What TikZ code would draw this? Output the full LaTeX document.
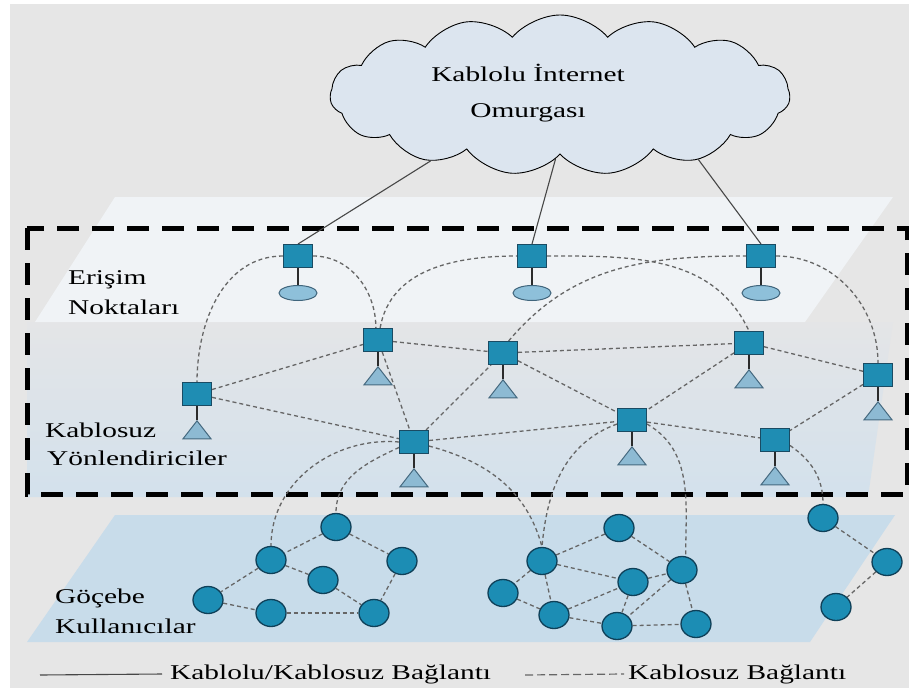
\documentclass[tikz,border=0pt]{standalone}
\usepackage{fontspec}
\setmainfont{Liberation Serif}[FakeStretch=1.4]
\usetikzlibrary{shapes.geometric,shapes.symbols}

\definecolor{bggrey}{HTML}{E6E6E6}
\definecolor{topplane}{HTML}{F0F3F6}
\definecolor{midtop}{HTML}{E4E5E7}
\definecolor{midbot}{HTML}{D3E1EC}
\definecolor{lowplane}{HTML}{C8DCEA}
\definecolor{cloudfill}{HTML}{DCE5EF}
\definecolor{sqfill}{HTML}{1F8DB3}
\definecolor{sqdraw}{HTML}{1A4B63}
\definecolor{trifill}{HTML}{8DBAD3}
\definecolor{tridraw}{HTML}{45697F}
\definecolor{discfill}{HTML}{8EC0DA}
\definecolor{discdraw}{HTML}{40657C}
\definecolor{userfill}{HTML}{1C8DB4}
\definecolor{userdraw}{HTML}{0F4058}
\definecolor{linkgrey}{HTML}{666666}
\definecolor{wiregrey}{HTML}{474747}
\definecolor{stemcol}{HTML}{2B2B2B}

\pgfdeclarelayer{bg}
\pgfdeclarelayer{links}
\pgfsetlayers{bg,links,main}

\tikzset{
  router/.style={rectangle, fill=sqfill, draw=sqdraw, line width=1pt,
    minimum width=29pt, minimum height=23pt, inner sep=0pt},
  apdisc/.style={ellipse, fill=discfill, draw=discdraw, line width=1pt,
    minimum width=38pt, minimum height=15pt, inner sep=0pt},
  mtri/.style={isosceles triangle, isosceles triangle stretches,
    shape border rotate=90, minimum width=28pt, minimum height=18pt,
    inner sep=0pt, fill=trifill, draw=tridraw, line width=1pt},
  user/.style={ellipse, fill=userfill, draw=userdraw, line width=1.3pt,
    minimum width=30pt, minimum height=27pt, inner sep=0pt},
  radio/.style={draw=linkgrey, line width=1.3pt, dash pattern=on 4pt off 3pt},
  legdash/.style={draw=linkgrey, line width=1.2pt, dash pattern=on 8pt off 4pt},
  wire/.style={draw=wiregrey, line width=1.1pt},
  stem/.style={draw=stemcol, line width=1.6pt},
  lbl/.style={font=\fontsize{21}{25}\selectfont, inner sep=0pt, anchor=west},
}

\begin{document}
\begin{tikzpicture}[x=1pt,y=1pt]
\useasboundingbox (0,0) rectangle (909,-690);

% backdrop and the three layers
\begin{pgfonlayer}{bg}
  \fill[white] (0,0) rectangle (909,-690);
  \fill[bggrey] (10,-4) rectangle (909,-688);
  \shade[top color=midtop, bottom color=midbot]
    (27,-322) -- (893,-322) -- (868,-497) -- (27,-497) -- cycle;
  \fill[topplane] (115,-197) -- (893,-197) -- (805,-322) -- (35,-322) -- cycle;
  \fill[lowplane] (115,-515) -- (895,-515) -- (810,-642) -- (27,-642) -- cycle;
  \draw[line width=5pt, dash pattern=on 22pt off 13pt] (27,-228) rectangle (907,-494);
\end{pgfonlayer}

% backbone cloud
\node[cloud, cloud puffs=15, cloud puff arc=100, cloud ignores aspect,
      draw=black, line width=0.9pt, fill=cloudfill,
      minimum width=460pt, minimum height=160pt, inner sep=0pt] (cloud) at (560,-95) {};
\node[lbl, anchor=center, align=center, font=\fontsize{21}{36}\selectfont]
  (cloudtxt) at (528,-93) {Kablolu İnternet\\Omurgası};

% layer captions
\node[lbl] (capA1) at (68,-280) {Erişim};
\node[lbl] (capA2) at (68,-307) {Noktaları};
\node[lbl] (capB1) at (45,-430) {Kablosuz};
\node[lbl] (capB2) at (47,-458) {Yönlendiriciler};
\node[lbl] (capC1) at (55,-598) {Göçebe};
\node[lbl] (capC2) at (55,-626) {Kullanıcılar};

% access points
\foreach \n/\x in {a1/298, a2/532, a3/761} {
  \node[router] (\n) at (\x,-256) {};
  \node[apdisc] (\n d) at (\x,-293) {};
  \begin{pgfonlayer}{links}
    \draw[stem] (\n.south) -- (\n d.north);
  \end{pgfonlayer}
}

% mesh routers
\foreach \n/\x/\y in {r1/197/394, r2/378/340, r3/414/442, r4/503/353,
                      r5/749/343, r6/878/375, r7/632/420, r8/775/440} {
  \node[router] (\n) at (\x,-\y) {};
  \node[mtri, anchor=apex] (\n t) at (\x,-\y-25.5) {};
  \begin{pgfonlayer}{links}
    \draw[stem] (\n.south) -- (\n t.apex);
  \end{pgfonlayer}
}

% mobile users
\foreach \n/\x/\y in {u1/336/527, u2/271/560, u3/402/561, u4/323/580,
                      u5/208/600, u6/271/613, u7/374/613,
                      m1/619/528, m2/542/561, m3/682/570, m4/633/582,
                      m5/503/593, m6/554/615, m7/617/626, m8/696/624,
                      n1/823/518, n2/887/562, n3/836/607} {
  \node[user] (\n) at (\x,-\y) {};
}

% legend
\coordinate (lw0) at (40,-675);
\node[lbl] (lwtxt) at (170,-674) {Kablolu/Kablosuz Bağlantı};
\coordinate (lr0) at (525,-675);
\node[lbl] (lrtxt) at (628,-674) {Kablosuz Bağlantı};

\begin{pgfonlayer}{links}
  % wired uplinks to the backbone
  \draw[wire] (a1.north) -- (cloud.207);
  \draw[wire] (a2.north) -- (cloud.266);
  \draw[wire] (a3.north) -- (cloud.335);

  % router mesh
  \foreach \p/\q in {r1/r2, r1/r3, r2/r3, r2/r4, r3/r4, r3/r7, r4/r5,
                     r4/r7, r5/r6, r5/r7, r6/r8, r7/r8}
    \draw[radio] (\p) -- (\q);

  % access point arcs
  \draw[radio] (a1.west) to[out=180,in=90] (r1.north);
  \draw[radio] (a1.east) to[out=0,in=90] (r2.100);
  \draw[radio] (r2.80) to[out=80,in=180] (a2.west);
  \draw[radio] (a2.east) to[out=0,in=115] (r5.north);
  \draw[radio] (r4.65) to[out=50,in=180] (a3.west);
  \draw[radio] (a3.east) to[out=0,in=90] (r6.north);

  % routers down to users
  \draw[radio] (r3.west) to[out=175,in=90] (u2.north);
  \draw[radio] (r3.200) to[out=205,in=90] (u1.north);
  \draw[radio] (r3.-15) to[out=-15,in=105] (m2.north);
  \draw[radio] (r7.195) to[out=200,in=85] (m2.north);
  \draw[radio] (r7.-15) to[out=-30,in=90] (m3.75);
  \draw[radio] (r8.-20) to[out=-35,in=90] (n1.north);

  % user clusters
  \foreach \p/\q in {u1/u2, u1/u3, u2/u5, u2/u4, u4/u7, u3/u7, u5/u6, u6/u7,
                     m1/m2, m1/m3, m2/m4, m2/m5, m2/m6, m5/m6, m6/m4, m6/m7,
                     m4/m3, m4/m7, m3/m7, m7/m8, m3/m8,
                     n1/n2, n2/n3}
    \draw[radio] (\p) -- (\q);

  % legend strokes
  \draw[wire] (lw0) -- ([xshift=-8pt]lwtxt.west);
  \draw[legdash] (lr0) -- ([xshift=-4pt]lrtxt.west);
\end{pgfonlayer}
\end{tikzpicture}
\end{document}
